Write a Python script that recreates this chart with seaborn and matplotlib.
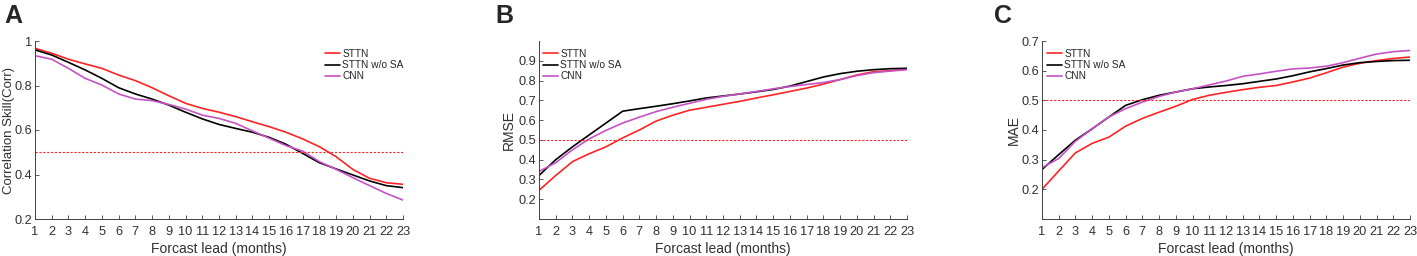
import matplotlib
matplotlib.use("Agg")
import matplotlib.pyplot as plt
import seaborn as sns
import pandas as pd

sns.set_style("ticks")
plt.rcParams['font.family'] = ['Liberation Sans', 'DejaVu Sans']

# Forecast lead (months)
leads = list(range(1, 24))

# Panel A - correlation skill
corr_sttn = [0.967, 0.945, 0.918, 0.897, 0.877, 0.847, 0.822, 0.790, 0.754, 0.720, 0.697, 0.680,
             0.660, 0.637, 0.615, 0.590, 0.560, 0.525, 0.480, 0.423, 0.383, 0.363, 0.356]
corr_nosa = [0.960, 0.937, 0.904, 0.870, 0.832, 0.790, 0.762, 0.739, 0.712, 0.680, 0.650, 0.625,
             0.607, 0.590, 0.567, 0.536, 0.495, 0.453, 0.425, 0.398, 0.371, 0.350, 0.341]
corr_cnn = [0.934, 0.918, 0.877, 0.832, 0.802, 0.762, 0.739, 0.732, 0.715, 0.694, 0.667, 0.652,
            0.630, 0.596, 0.563, 0.530, 0.505, 0.458, 0.423, 0.386, 0.350, 0.315, 0.285]

# Panel B - RMSE
rmse_sttn = [0.245, 0.320, 0.390, 0.430, 0.465, 0.510, 0.550, 0.595, 0.625, 0.650, 0.665, 0.680,
             0.695, 0.712, 0.728, 0.745, 0.762, 0.782, 0.805, 0.828, 0.845, 0.850, 0.858]
rmse_nosa = [0.320, 0.400, 0.465, 0.525, 0.585, 0.645, 0.658, 0.670, 0.683, 0.697, 0.712, 0.722,
             0.732, 0.743, 0.755, 0.772, 0.795, 0.818, 0.835, 0.847, 0.855, 0.860, 0.862]
rmse_cnn = [0.340, 0.385, 0.450, 0.505, 0.548, 0.585, 0.615, 0.643, 0.665, 0.685, 0.705, 0.720,
            0.732, 0.745, 0.758, 0.770, 0.780, 0.790, 0.805, 0.825, 0.840, 0.848, 0.855]

# Panel C - MAE
mae_sttn = [0.200, 0.262, 0.323, 0.355, 0.376, 0.413, 0.439, 0.460, 0.480, 0.503, 0.517, 0.527,
            0.536, 0.544, 0.550, 0.562, 0.575, 0.593, 0.612, 0.625, 0.634, 0.641, 0.646]
mae_nosa = [0.267, 0.317, 0.366, 0.404, 0.444, 0.483, 0.502, 0.517, 0.528, 0.539, 0.545, 0.550,
            0.556, 0.564, 0.572, 0.583, 0.596, 0.607, 0.619, 0.627, 0.631, 0.634, 0.635]
mae_cnn = [0.273, 0.304, 0.362, 0.404, 0.444, 0.472, 0.494, 0.513, 0.528, 0.539, 0.552, 0.565,
           0.581, 0.589, 0.598, 0.606, 0.609, 0.615, 0.627, 0.642, 0.656, 0.664, 0.668]

models = ['STTN', 'STTN w/o SA', 'CNN']
palette = {'STTN': '#ff2424', 'STTN w/o SA': '#000000', 'CNN': '#c652c6'}


def make_df(a, b, c):
    rows = []
    for name, vals in zip(models, [a, b, c]):
        for x, v in zip(leads, vals):
            rows.append({'lead': x, 'value': v, 'model': name})
    return pd.DataFrame(rows)


panels = [
    ('A', make_df(corr_sttn, corr_nosa, corr_cnn), 'Correlation Skill(Corr)', (0.2, 1.0),
     [0.2, 0.4, 0.6, 0.8, 1.0], ['0.2', '0.4', '0.6', '0.8', '1']),
    ('B', make_df(rmse_sttn, rmse_nosa, rmse_cnn), 'RMSE', (0.1, 1.0),
     [0.2, 0.3, 0.4, 0.5, 0.6, 0.7, 0.8, 0.9], None),
    ('C', make_df(mae_sttn, mae_nosa, mae_cnn), 'MAE', (0.1, 0.7),
     [0.2, 0.3, 0.4, 0.5, 0.6, 0.7], None),
]

fig = plt.figure(figsize=(14.17, 2.56), dpi=100)
lefts = [35 / 1417, 539 / 1417, 1042 / 1417]
letter_x = [4 / 1417, 495 / 1417, 994 / 1417]
ylab_x = [-0.0538, -0.0625, -0.057]
ylab_size = [9.5, 10, 10]
leg_anchor = [(0.788, 0.955), (0.011, 0.955), (0.014, 0.955)]
axcol = '#404040'

for i, (letter, df, ylab, ylim, yt, ytl) in enumerate(panels):
    ax = fig.add_axes([lefts[i], 37 / 256, 368 / 1417, 178 / 256])
    sns.lineplot(data=df, x='lead', y='value', hue='model', palette=palette,
                 linewidth=1.2, ax=ax)
    ax.plot([1, 23], [0.5, 0.5], linestyle=(0, (2, 1.5)), color='#ff2424', linewidth=0.8)
    ax.set_xlim(1, 23)
    ax.set_ylim(*ylim)
    ax.set_xticks(leads)
    ax.set_yticks(yt)
    if ytl is not None:
        ax.set_yticklabels(ytl)
    ax.set_xlabel('Forcast lead (months)', fontsize=10, color='#303030', labelpad=3)
    ax.set_ylabel(ylab, fontsize=ylab_size[i], color='#303030')
    ax.yaxis.set_label_coords(ylab_x[i], 0.5)
    ax.tick_params(axis='x', pad=5)
    ax.tick_params(axis='y', pad=2)
    ax.tick_params(direction='in', length=3, width=0.6, colors=axcol, labelsize=9.2,
                   labelcolor='#303030')
    for s in ['top', 'right']:
        ax.spines[s].set_visible(False)
    for s in ['left', 'bottom']:
        ax.spines[s].set_color(axcol)
        ax.spines[s].set_linewidth(0.7)
    ax.legend(loc='upper left', bbox_to_anchor=leg_anchor[i], frameon=False, fontsize=7.3,
              handlelength=1.5, handletextpad=0.2, labelspacing=0.12,
              borderaxespad=0, borderpad=0)
    fig.text(letter_x[i], 1 - 16 / 256, letter, fontsize=18, fontweight='bold',
             va='center', ha='left')

fig.savefig('out.png', dpi=100)
